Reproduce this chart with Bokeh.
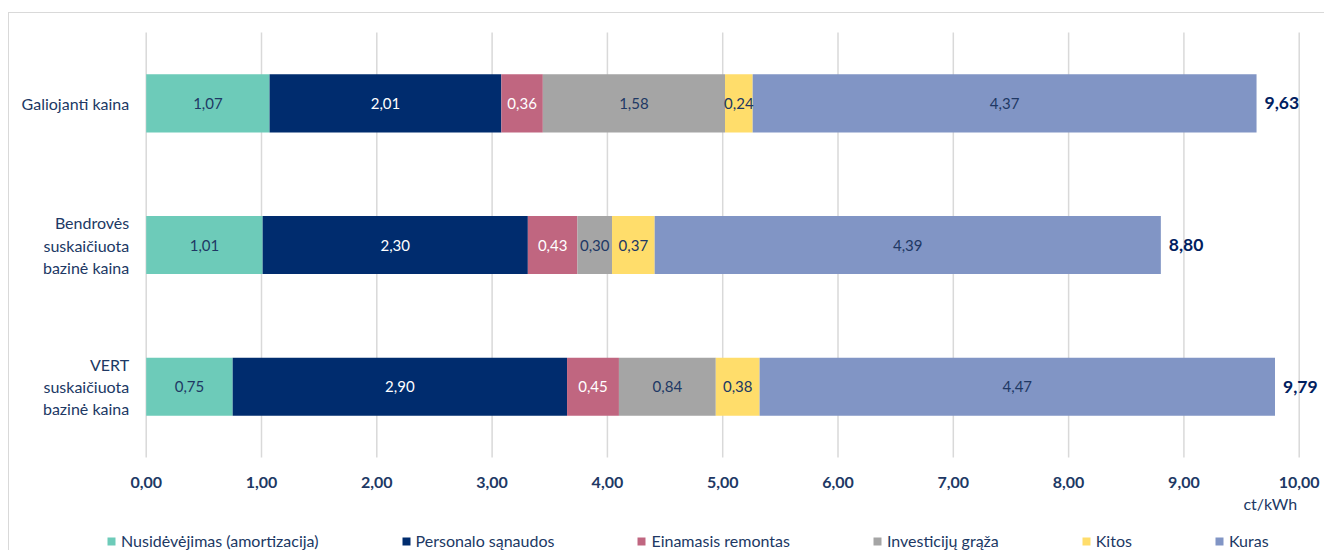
from bokeh.plotting import figure
from bokeh.models import ColumnDataSource, Range1d, Legend, LegendItem
from bokeh.core.properties import value
from bokeh.embed import file_html
from bokeh.resources import INLINE

# ---------------- data ----------------
categories = ["Galiojanti kaina",
              "Bendrovės\nsuskaičiuota\nbazinė kaina",
              "VERT\nsuskaičiuota\nbazinė kaina"]
series_names = ["Nusidėvėjimas (amortizacija)", "Personalo sąnaudos", "Einamasis remontas",
                "Investicijų grąža", "Kitos", "Kuras"]
nusidevejimas = [1.07, 1.01, 0.75]
personalo = [2.01, 2.30, 2.90]
remontas = [0.36, 0.43, 0.45]
investiciju = [1.58, 0.30, 0.84]
kitos = [0.24, 0.37, 0.38]
kuras = [4.37, 4.39, 4.47]
totals = [9.63, 8.80, 9.79]
tick_values = [0, 1, 2, 3, 4, 5, 6, 7, 8, 9, 10]
unit_label = "ct/kWh"

# ---------------- style ----------------
colors = ["#6dcbb9", "#002c6e", "#c06680", "#a5a5a5", "#ffdd6b", "#8195c5"]
value_text_colors = ["#203864", "#ffffff", "#ffffff", "#203864", "#203864", "#203864"]
TEXT = "#203864"
FONT = value("Lato")


def fmt(v):
    return f"{v:.2f}".replace(".", ",")


n = len(categories)
ypos = [n - 0.5 - i for i in range(n)]  # first category at the top

keys = ["s0", "s1", "s2", "s3", "s4", "s5"]
series = [nusidevejimas, personalo, remontas, investiciju, kitos, kuras]
data = {"y": ypos, "cat": categories}
for k, s in zip(keys, series):
    data[k] = s
src = ColumnDataSource(data)

# plot frame covers the whole canvas; scale: 0..10 -> 1153 px, one category band -> 141.7 px
p = figure(width=1316, height=538, output_backend="svg", toolbar_location=None,
           x_range=Range1d(-1.1856, 10.228), y_range=Range1d(-0.6626, 3.1341),
           x_axis_location=None, y_axis_location=None,
           min_border_left=0, min_border_right=0, min_border_top=0, min_border_bottom=0)
p.styles = {"margin-left": "8px", "margin-top": "12px",
            "border-left": "1px solid #d9d9d9", "border-top": "1px solid #d9d9d9"}
p.outline_line_color = None
p.background_fill_color = "white"
p.border_fill_color = "white"
p.grid.visible = False

# vertical grid lines at the tick values, spanning the category bands
p.segment(x0=tick_values, y0=[0] * len(tick_values), x1=tick_values, y1=[n] * len(tick_values),
          line_color="#d9d9d9", line_width=1.5)

renderers = p.hbar_stack(keys, y="y", height=0.41, color=colors, source=src, line_color=None)

# segment value labels
lx, ly, lt, lc = [], [], [], []
for i in range(n):
    left = 0.0
    for j, s in enumerate(series):
        v = s[i]
        lx.append(left + v / 2)
        ly.append(ypos[i])
        lt.append(fmt(v))
        lc.append(value_text_colors[j])
        left += v
p.text(x=lx, y=ly, text=lt, text_color=lc, text_align="center", text_baseline="middle",
       text_font=FONT, text_font_size="15px")

# totals
p.text(x=totals, y=ypos, text=[fmt(t) for t in totals], x_offset=8, text_align="left",
       text_baseline="middle", text_color="#002060", text_font=FONT, text_font_size="17.5px",
       text_font_style="bold")

# category labels (y axis)
p.text(x=[0] * n, y=ypos, text=categories, x_offset=-17, text_align="right",
       text_baseline="middle", text_color=TEXT, text_font=FONT, text_font_size="16px",
       text_line_height=1.17)

# x tick labels
p.text(x=tick_values, y=[0] * len(tick_values), text=[fmt(t) for t in tick_values], y_offset=25,
       text_align="center", text_baseline="middle", text_color=TEXT, text_font=FONT,
       text_font_size="16px", text_font_style="bold")

# unit label
p.text(x=[tick_values[-1]], y=[0], text=[unit_label], x_offset=-2, y_offset=46,
       text_align="right", text_baseline="middle", text_color=TEXT, text_font=FONT,
       text_font_size="16px")

legend = Legend(items=[LegendItem(label=nm, renderers=[r]) for nm, r in zip(series_names, renderers)],
                orientation="horizontal", location=(97, 1), glyph_width=10, glyph_height=10,
                label_standoff=5, spacing=82, padding=0, margin=0, border_line_color=None,
                background_fill_alpha=0, label_text_font="Lato", label_text_font_size="16px",
                label_text_color=TEXT)
p.add_layout(legend)

open("out.html", "w").write(file_html(p, INLINE))
